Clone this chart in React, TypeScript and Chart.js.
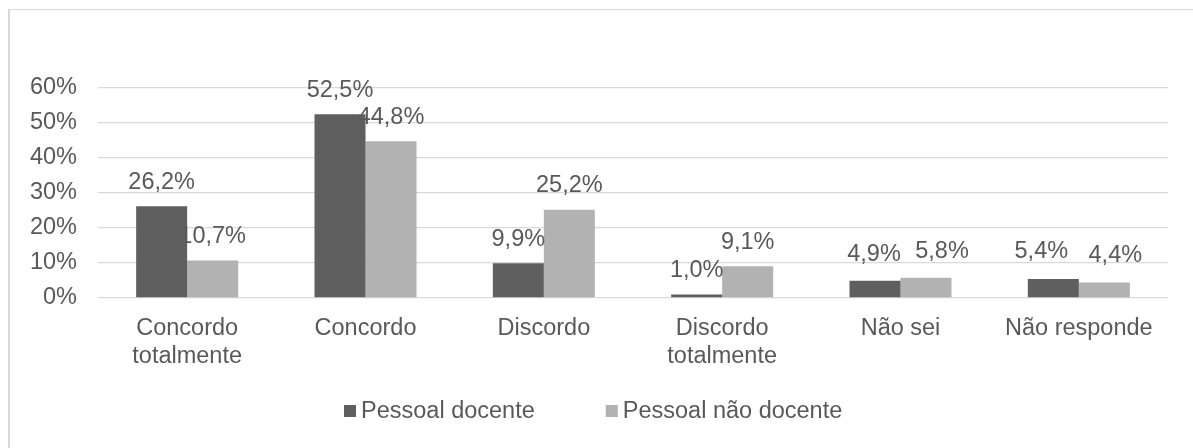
import React, { useEffect, useRef } from "react";
import { Chart, registerables } from "chart.js";

Chart.register(...registerables);

const categories: (string | string[])[] = [
  ["Concordo", "totalmente"],
  "Concordo",
  "Discordo",
  ["Discordo", "totalmente"],
  "Não sei",
  "Não responde",
];
const seriesNames = ["Pessoal docente", "Pessoal não docente"];
const docente = [26.2, 52.5, 9.9, 1.0, 4.9, 5.4];
const naoDocente = [10.7, 44.8, 25.2, 9.1, 5.8, 4.4];
const seriesColors = ["#5f5f5f", "#b2b2b2"];
const yMax = 60;
const yStep = 10;

// manual label nudges (pixels), as in the original where labels were moved apart
const labelShiftX = [
  [0, 0, 0, 0, -1, -12],
  [0, 0, 0, 0, 16, 11],
];
const labelShiftY = [
  [0, 0, 0, 0, 2, 4],
  [0, 0, 0, 0, 2, 3],
];

const FONT = "'Liberation Sans', Arial, sans-serif";
const TEXT = "#595959";
const FS = 23.5;

const fmt = (v: number) => v.toFixed(1).replace(".", ",") + "%";

const dataLabelPlugin = {
  id: "dataLabels",
  afterDatasetsDraw(chart: any) {
    const ctx = chart.ctx;
    ctx.save();
    ctx.font = `${FS}px ${FONT}`;
    ctx.fillStyle = TEXT;
    ctx.textAlign = "center";
    ctx.textBaseline = "middle";
    chart.data.datasets.forEach((ds: any, i: number) => {
      const meta = chart.getDatasetMeta(i);
      meta.data.forEach((el: any, j: number) => {
        const dx = (labelShiftX[i] && labelShiftX[i][j]) || 0;
        const dy = (labelShiftY[i] && labelShiftY[i][j]) || 0;
        ctx.fillText(fmt(ds.data[j]), el.x + dx, el.y - 24 - dy);
      });
    });
    ctx.restore();
  },
};

const legendPlugin = {
  id: "customLegend",
  afterDraw(chart: any) {
    const ctx = chart.ctx;
    ctx.save();
    ctx.font = `${FS}px ${FONT}`;
    ctx.textBaseline = "middle";
    ctx.textAlign = "left";
    const y = 401;
    let x = 334;
    const box = 12;
    chart.data.datasets.forEach((ds: any) => {
      ctx.fillStyle = ds.backgroundColor;
      ctx.fillRect(x, y - box / 2, box, box);
      x += box + 5;
      ctx.fillStyle = TEXT;
      ctx.fillText(ds.label, x, y + 1);
      x += ctx.measureText(ds.label).width + 71;
    });
    ctx.restore();
  },
};

export default function App() {
  const ref = useRef<HTMLCanvasElement | null>(null);
  useEffect(() => {
    if (!ref.current) return;
    const chart = new Chart(ref.current, {
      type: "bar",
      data: {
        labels: categories,
        datasets: [
          { label: seriesNames[0], data: docente, backgroundColor: seriesColors[0] },
          { label: seriesNames[1], data: naoDocente, backgroundColor: seriesColors[1] },
        ],
      },
      options: {
        animation: false,
        responsive: false,
        devicePixelRatio: 1,
        layout: { padding: { top: 78, right: 25, left: 0, bottom: 0 } },
        datasets: { bar: { categoryPercentage: 0.572, barPercentage: 1 } },
        plugins: { legend: { display: false }, tooltip: { enabled: false } },
        scales: {
          x: {
            grid: { display: false, drawTicks: false },
            border: { display: false },
            ticks: {
              color: TEXT,
              font: { family: FONT, size: FS, lineHeight: 1.2 },
              padding: 16,
              maxRotation: 0,
              autoSkip: false,
            },
            afterFit: (s: any) => {
              s.height = 150;
            },
          },
          y: {
            min: 0,
            max: yMax,
            grid: { color: "#d9d9d9", lineWidth: 1.3, drawTicks: false },
            border: { display: false },
            ticks: {
              stepSize: yStep,
              color: TEXT,
              font: { family: FONT, size: FS },
              padding: 21,
              callback: (v: any) => v + "%",
            },
            afterFit: (s: any) => {
              s.width = 88;
            },
          },
        },
      },
      plugins: [dataLabelPlugin, legendPlugin],
    });
    return () => chart.destroy();
  }, []);

  return (
    <div
      style={{
        position: "fixed",
        left: 8,
        top: 9,
        right: 0,
        bottom: 0,
        overflow: "hidden",
        borderLeft: "2px solid #d9d9d9",
        borderTop: "1px solid #d9d9d9",
        background: "#fff",
      }}
    >
      <canvas ref={ref} width={1183} height={438} style={{ display: "block", width: 1183, height: 438 }} />
    </div>
  );
}
